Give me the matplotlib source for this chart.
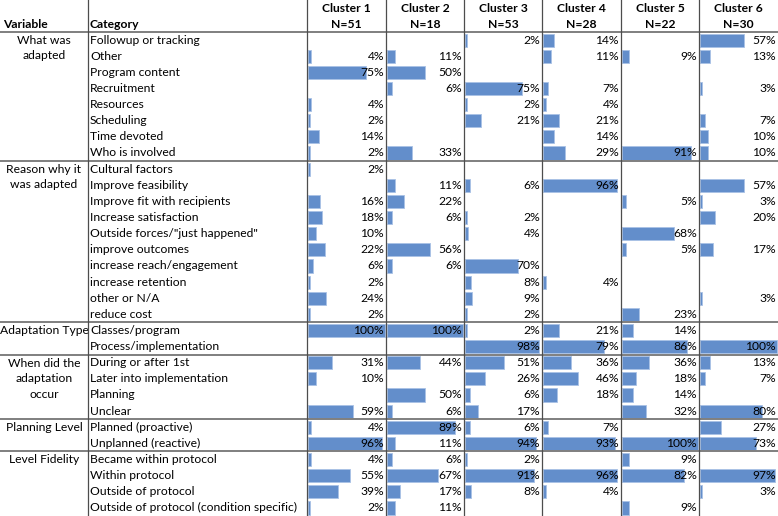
import matplotlib
matplotlib.use("Agg")
import matplotlib.pyplot as plt
import numpy as np

plt.rcParams['font.family'] = ['Lato', 'DejaVu Sans']

clusters = ["Cluster 1", "Cluster 2", "Cluster 3", "Cluster 4", "Cluster 5", "Cluster 6"]
cluster_n = ["N=51", "N=18", "N=53", "N=28", "N=22", "N=30"]

variables = ["What was\nadapted", "Reason why it\nwas adapted", "Adaptation Type",
             "When did the\nadaptation\noccur", "Planning Level", "Level Fidelity"]
group_sizes = [8, 10, 2, 4, 2, 4]

categories = [
    "Followup or tracking", "Other", "Program content", "Recruitment", "Resources",
    "Scheduling", "Time devoted", "Who is involved",
    "Cultural factors", "Improve feasibility", "Improve fit with recipients",
    "Increase satisfaction", "Outside forces/\"just happened\"", "improve outcomes",
    "increase reach/engagement", "increase retention", "other or N/A", "reduce cost",
    "Classes/program", "Process/implementation",
    "During or after 1st", "Later into implementation", "Planning", "Unclear",
    "Planned (proactive)", "Unplanned (reactive)",
    "Became within protocol", "Within protocol", "Outside of protocol",
    "Outside of protocol (condition specific)",
]

N = None
cluster1 = [N, 4, 75, N, 4, 2, 14, 2,
            2, N, 16, 18, 10, 22, 6, 2, 24, 2,
            100, N,
            31, 10, N, 59,
            4, 96,
            4, 55, 39, 2]
cluster2 = [N, 11, 50, 6, N, N, N, 33,
            N, 11, 22, 6, N, 56, 6, N, N, N,
            100, N,
            44, N, 50, 6,
            89, 11,
            6, 67, 17, 11]
cluster3 = [2, N, N, 75, 2, 21, N, N,
            N, 6, N, 2, 4, N, 70, 8, 9, 2,
            2, 98,
            51, 26, 6, 17,
            6, 94,
            2, 91, 8, N]
cluster4 = [14, 11, N, 7, 4, 21, 14, 29,
            N, 96, N, N, N, N, N, 4, N, N,
            21, 79,
            36, 46, 18, N,
            7, 93,
            N, 96, 4, N]
cluster5 = [N, 9, N, N, N, N, N, 91,
            N, N, 5, N, 68, 5, N, N, N, 23,
            14, 86,
            36, 18, 14, 32,
            N, 100,
            9, 82, N, 9]
cluster6 = [57, 13, N, 3, N, 7, 10, 10,
            N, 57, 3, 20, N, 17, N, N, 3, N,
            N, 100,
            13, 7, N, 80,
            27, 73,
            N, 97, 3, N]
values = [cluster1, cluster2, cluster3, cluster4, cluster5, cluster6]

W, H = 778, 516
fig = plt.figure(figsize=(W / 100, H / 100), dpi=100)
ax = fig.add_axes([0, 0, 1, 1])
ax.set_xlim(0, W)
ax.set_ylim(H, 0)
ax.axis('off')

header_h = 32.0
row_h = (H - header_h) / len(categories)
col_edges = [0, 88, 307, 386, 464, 542, 621, 699, 778]
bar_color = '#638ECB'
fs = 8.7
text_color = '#000000'

# headers
ax.text(3, 24, "Variable", fontsize=fs, fontweight='bold', ha='left', va='center')
ax.text(90, 24, "Category", fontsize=fs, fontweight='bold', ha='left', va='center')
for j, (c, n) in enumerate(zip(clusters, cluster_n)):
    cx = (col_edges[j + 2] + col_edges[j + 3]) / 2
    ax.text(cx, 8.5, c, fontsize=fs, fontweight='bold', ha='center', va='center')
    ax.text(cx, 24, n, fontsize=fs, fontweight='bold', ha='center', va='center')

rows_y = header_h + row_h * (np.arange(len(categories)) + 0.5)

# category labels
for i, cat in enumerate(categories):
    ax.text(90, rows_y[i], cat, fontsize=fs, ha='left', va='center', color=text_color)

# variable labels
start = 0
for v, g in zip(variables, group_sizes):
    nlines = v.count("\n") + 1
    ymid = header_h + row_h * (start + nlines / 2.0)
    ax.text(44, ymid, v, fontsize=fs, ha='center', va='center', linespacing=1.5)
    start += g

# data bars and labels
for j, vals in enumerate(values):
    left = col_edges[j + 2] + 1
    right = col_edges[j + 3]
    cw = right - left - 1
    ys = [rows_y[i] for i, v in enumerate(vals) if v is not None]
    ws = [v / 100 * cw for v in vals if v is not None]
    ax.barh(ys, ws, height=row_h - 3, left=left, color=bar_color,
            edgecolor='#A9C2E6', linewidth=0.6, zorder=2)
    for i, v in enumerate(vals):
        if v is not None:
            ax.text(right - 2, rows_y[i], f"{v}%", fontsize=fs, ha='right',
                    va='center', zorder=3)

# lines
ax.axhline(header_h, color='#7F7F7F', lw=1.4, zorder=4)
start = 0
for g in group_sizes[:-1]:
    start += g
    ax.axhline(header_h + row_h * start, color='#7F7F7F', lw=1.4, zorder=4)
for x in col_edges[1:-1]:
    ax.axvline(x, color='#4D4D4D', lw=0.9, zorder=4)

fig.savefig("out.png", dpi=100)
